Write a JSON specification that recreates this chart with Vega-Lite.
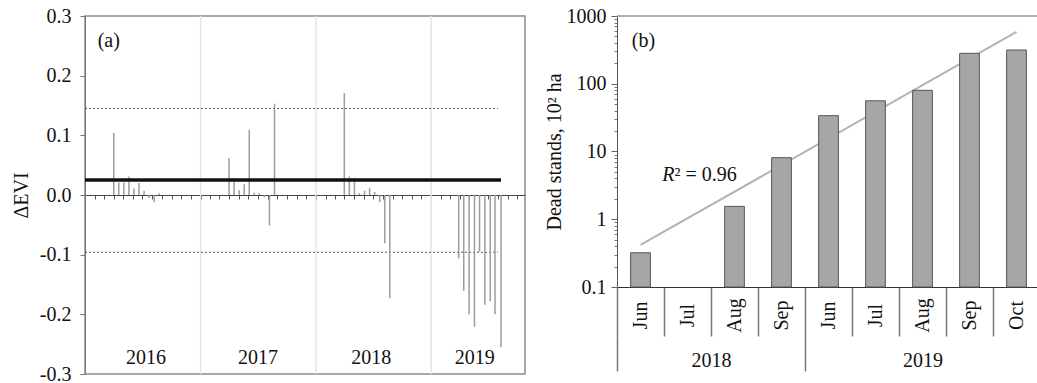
{
  "$schema": "https://vega.github.io/schema/vega-lite/v6.json",
  "padding": {"left": 10, "top": 5, "right": 0, "bottom": 0},
  "spacing": 18,
  "config": {
    "font": "Liberation Serif",
    "view": {"stroke": null},
    "axis": {"labelFont": "Liberation Serif", "titleFont": "Liberation Serif", "labelFontSize": 20, "titleFontSize": 20, "titleFontWeight": "normal", "labelColor": "#111", "titleColor": "#111", "grid": false},
    "text": {"font": "Liberation Serif", "fontSize": 20, "color": "#111"}
  },
  "hconcat": [
    {
      "width": 440,
      "height": 358,
      "view": {"stroke": "#8c8c8c", "strokeWidth": 1.5},
      "layer": [
        {
          "data": {"values": [{"date": "2017-01-01"}, {"date": "2018-01-01"}, {"date": "2019-01-01"}]},
          "mark": {"type": "rule", "color": "#e4e4e4", "strokeWidth": 1.5},
          "encoding": {
            "x": {
              "field": "date", "type": "temporal",
              "scale": {"type": "utc", "domain": [{"year": 2016, "month": 1, "date": 1, "utc": true}, {"year": 2019, "month": 10, "date": 25, "utc": true}]},
              "axis": {"orient": "bottom", "offset": -179, "tickCount": {"interval": "month", "step": 1}, "labels": false, "title": null, "tickSize": 4, "domainColor": "#444", "tickColor": "#555", "grid": false}
            }
          }
        },
        {
          "data": {"values": [
            {"level": "upper", "devi": 0.145, "date": "2016-01-01", "date_end": "2019-07-31"},
            {"level": "lower", "devi": -0.096, "date": "2016-01-01", "date_end": "2019-07-31"}
          ]},
          "mark": {"type": "rule", "strokeDash": [2, 2], "color": "#555", "strokeWidth": 1},
          "encoding": {
            "x": {"field": "date", "type": "temporal", "scale": {"type": "utc"}},
            "x2": {"field": "date_end"},
            "y": {
              "field": "devi", "type": "quantitative",
              "scale": {"domain": [-0.3, 0.3]},
              "axis": {"values": [-0.3, -0.2, -0.1, 0, 0.1, 0.2, 0.3], "format": ".1f", "labelExpr": "replace(datum.label, '\u2212', '-')", "title": "\u0394EVI", "tickSize": 5, "labelPadding": 9, "titlePadding": 8, "domainColor": "#777", "tickColor": "#777"}
            }
          }
        },
        {
          "data": {"values": [
            {"date": "2016-04-01", "devi": 0.104}, {"date": "2016-04-17", "devi": 0.021}, {"date": "2016-05-03", "devi": 0.021}, {"date": "2016-05-19", "devi": 0.031}, {"date": "2016-06-04", "devi": 0.011}, {"date": "2016-06-20", "devi": 0.020}, {"date": "2016-07-06", "devi": 0.007}, {"date": "2016-07-22", "devi": -0.005}, {"date": "2016-08-07", "devi": -0.012}, {"date": "2016-08-23", "devi": 0.003},
            {"date": "2017-04-01", "devi": 0.062}, {"date": "2017-04-17", "devi": 0.028}, {"date": "2017-05-03", "devi": 0.008}, {"date": "2017-05-19", "devi": 0.018}, {"date": "2017-06-04", "devi": 0.109}, {"date": "2017-06-20", "devi": 0.004}, {"date": "2017-07-06", "devi": 0.003}, {"date": "2017-07-22", "devi": -0.004}, {"date": "2017-08-07", "devi": -0.051}, {"date": "2017-08-23", "devi": 0.153},
            {"date": "2018-04-01", "devi": 0.171}, {"date": "2018-04-17", "devi": 0.031}, {"date": "2018-05-03", "devi": 0.028}, {"date": "2018-05-19", "devi": 0.003}, {"date": "2018-06-04", "devi": 0.007}, {"date": "2018-06-20", "devi": 0.012}, {"date": "2018-07-06", "devi": 0.005}, {"date": "2018-07-22", "devi": -0.012}, {"date": "2018-08-07", "devi": -0.081}, {"date": "2018-08-23", "devi": -0.173},
            {"date": "2019-03-29", "devi": -0.106}, {"date": "2019-04-14", "devi": -0.161}, {"date": "2019-05-01", "devi": -0.200}, {"date": "2019-05-18", "devi": -0.221}, {"date": "2019-06-03", "devi": -0.095}, {"date": "2019-06-20", "devi": -0.184}, {"date": "2019-07-07", "devi": -0.178}, {"date": "2019-07-22", "devi": -0.200}, {"date": "2019-08-10", "devi": -0.255}
          ]},
          "mark": {"type": "rule", "color": "#9c9c9c", "strokeWidth": 1.5},
          "encoding": {
            "x": {"field": "date", "type": "temporal", "scale": {"type": "utc"}},
            "y": {"field": "devi", "type": "quantitative"},
            "y2": {"datum": 0}
          }
        },
        {
          "data": {"values": [{"devi": 0.025, "date": "2016-01-01", "date_end": "2019-08-10"}]},
          "mark": {"type": "rule", "color": "#111", "strokeWidth": 3.5},
          "encoding": {
            "x": {"field": "date", "type": "temporal", "scale": {"type": "utc"}},
            "x2": {"field": "date_end"},
            "y": {"field": "devi", "type": "quantitative"}
          }
        },
        {
          "data": {"values": [
            {"label": "2016", "date": "2016-07-12", "devi": -0.274},
            {"label": "2017", "date": "2017-07-02", "devi": -0.274},
            {"label": "2018", "date": "2018-06-25", "devi": -0.274},
            {"label": "2019", "date": "2019-05-19", "devi": -0.274}
          ]},
          "mark": {"type": "text", "align": "center", "baseline": "middle"},
          "encoding": {
            "x": {"field": "date", "type": "temporal", "scale": {"type": "utc"}},
            "y": {"field": "devi", "type": "quantitative"},
            "text": {"field": "label"}
          }
        },
        {
          "data": {"values": [{"label": "(a)", "date": "2016-02-10", "devi": 0.258}]},
          "mark": {"type": "text", "align": "left", "baseline": "middle"},
          "encoding": {
            "x": {"field": "date", "type": "temporal", "scale": {"type": "utc"}},
            "y": {"field": "devi", "type": "quantitative"},
            "text": {"field": "label"}
          }
        }
      ]
    },
    {
      "width": 423,
      "height": 271,
      "layer": [
        {
          "data": {"values": [{"period": "Jun 2018", "fit": 0.417}, {"period": "Oct 2019", "fit": 581}]},
          "mark": {"type": "line", "color": "#b3b3b3", "strokeWidth": 2},
          "encoding": {
            "x": {
              "field": "period", "type": "nominal",
              "scale": {"domain": ["Jun 2018", "Jul 2018", "Aug 2018", "Sep 2018", "Jun 2019", "Jul 2019", "Aug 2019", "Sep 2019", "Oct 2019"], "paddingInner": 0, "paddingOuter": 0},
              "axis": {
                "orient": "bottom", "offset": 49, "domain": false, "title": null, "tickBand": "extent", "tickSize": 35, "tickColor": "#777", "tickWidth": 1.5,
                "tickOpacity": {"condition": {"test": "datum.value == 'Sep 2018' || datum.value == null", "value": 1}, "value": 0},
                "labelAngle": 0, "labelPadding": -11, "labelBaseline": "middle",
                "labelExpr": "datum.value == 'Jul 2018' ? '2018' : (datum.value == 'Aug 2019' ? '2019' : '')",
                "labelOffset": {"condition": {"test": "datum.value == 'Jul 2018'", "value": 23.5}, "value": 0}
              }
            },
            "y": {
              "field": "fit", "type": "quantitative",
              "scale": {"type": "log", "domain": [0.1, 1000]},
              "axis": {"orient": "left", "values": [0.2, 0.3, 0.4, 0.5, 0.6, 0.7, 0.8, 0.9, 2, 3, 4, 5, 6, 7, 8, 9, 20, 30, 40, 50, 60, 70, 80, 90, 200, 300, 400, 500, 600, 700, 800, 900], "labels": false, "domain": false, "title": null, "tickSize": 3, "tickColor": "#777"}
            }
          }
        },
        {
          "data": {"values": [
            {"period": "Jun 2018", "area": 0.32}, {"period": "Jul 2018", "area": null}, {"period": "Aug 2018", "area": 1.55}, {"period": "Sep 2018", "area": 8.1},
            {"period": "Jun 2019", "area": 33.8}, {"period": "Jul 2019", "area": 56}, {"period": "Aug 2019", "area": 80}, {"period": "Sep 2019", "area": 281}, {"period": "Oct 2019", "area": 315}
          ]},
          "mark": {"type": "bar", "fill": "#a6a6a6", "stroke": "#555", "strokeWidth": 1, "width": {"band": 0.42}},
          "encoding": {
            "x": {
              "field": "period", "type": "nominal",
              "axis": {
                "orient": "bottom", "title": null, "tickBand": "extent", "tickSize": 49, "tickColor": "#777", "tickWidth": 1.5, "domainColor": "#333",
                "tickOpacity": {"condition": {"test": "datum.value == 'Oct 2019'", "value": 0}, "value": 1},
                "labelAngle": 270, "labelAlign": "center", "labelBaseline": "middle", "labelPadding": -21,
                "labelExpr": "datum.value ? substring(datum.value, 0, 3) : ''"
              }
            },
            "y": {
              "field": "area", "type": "quantitative",
              "axis": {"orient": "left", "values": [0.1, 1, 10, 100, 1000], "format": "~g", "title": "Dead stands, 10\u00b2 ha", "tickSize": 6, "labelPadding": 5, "titlePadding": 2, "domainColor": "#555", "tickColor": "#666"}
            },
            "y2": {"datum": 0.1}
          }
        },
        {
          "data": {"values": [{"top": 1000}]},
          "mark": {"type": "rule", "color": "#999", "strokeWidth": 1.5},
          "encoding": {"y": {"field": "top", "type": "quantitative", "axis": null}}
        },
        {
          "data": {"values": [{"period": "Jul 2018", "pos": 3.7, "label": "R"}]},
          "mark": {"type": "text", "align": "right", "baseline": "alphabetic", "fontStyle": "italic", "dx": -13},
          "encoding": {
            "x": {"field": "period", "type": "nominal", "axis": null},
            "y": {"field": "pos", "type": "quantitative", "axis": null},
            "text": {"field": "label"}
          }
        },
        {
          "data": {"values": [{"period": "Jul 2018", "pos": 3.7, "label": "\u00b2 = 0.96"}]},
          "mark": {"type": "text", "align": "left", "baseline": "alphabetic", "dx": -13},
          "encoding": {
            "x": {"field": "period", "type": "nominal", "axis": null},
            "y": {"field": "pos", "type": "quantitative", "axis": null},
            "text": {"field": "label"}
          }
        },
        {
          "data": {"values": [{"period": "Jun 2018", "pos": 428, "label": "(b)"}]},
          "mark": {"type": "text", "align": "center", "baseline": "middle", "dx": 3},
          "encoding": {
            "x": {"field": "period", "type": "nominal", "axis": null},
            "y": {"field": "pos", "type": "quantitative", "axis": null},
            "text": {"field": "label"}
          }
        }
      ],
      "resolve": {"axis": {"x": "independent", "y": "independent"}}
    }
  ]
}
